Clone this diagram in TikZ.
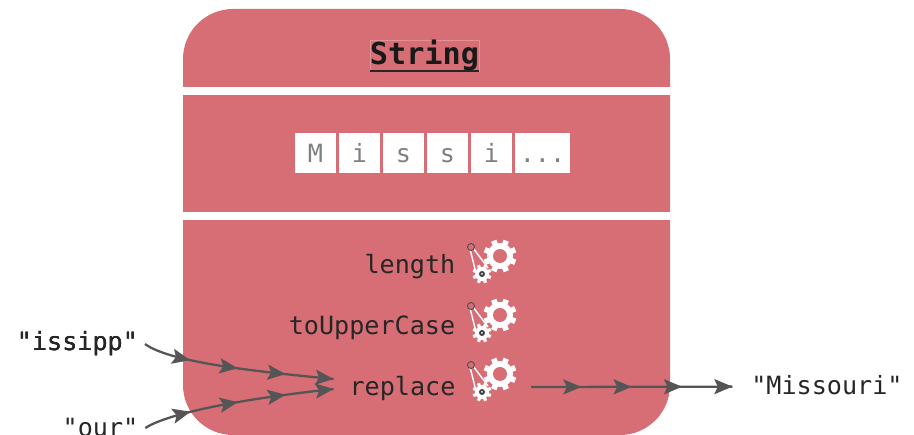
\documentclass[tikz,border=0pt]{standalone}
\usepackage{fontspec}
\setmonofont{DejaVu Sans Mono}
\usetikzlibrary{arrows.meta,decorations.markings}
\definecolor{objpink}{HTML}{D76E76}
\definecolor{flowgray}{HTML}{555555}
\newcommand{\gears}[2]{
\begin{scope}[shift={(#1,#2)}]
\foreach \a in {0,45,90,135}
\fill[white,rotate=\a+22.5] (-2.8,-16.5) rectangle (2.8,16.5);
\fill[white] (0,0) circle (13);
\fill[objpink] (0,0) circle (7);
\draw[white,line width=0.8pt] (-30,-7) -- (-24,17) (-27,-8) -- (-12,12);
\foreach \a in {0,45,90,135}
\fill[white,shift={(-18,18)},rotate=\a+22.5] (-1.6,-9.5) rectangle (1.6,9.5);
\fill[white] (-18,18) circle (7);
\fill[black!75] (-18,18) circle (3);
\fill[white] (-18,18) circle (1);
\draw[black!70,fill=objpink,line width=0.5pt] (-29,-9) circle (3.5);
\end{scope}}
\begin{document}
\begin{tikzpicture}[x=0.02cm,y=-0.02cm]
\tikzstyle{mono}=[font=\ttfamily\fontsize{14.3}{16}\selectfont,inner sep=0pt,text=black!85];
\tikzstyle{cell}=[mono,fill=white,minimum height=0.8cm,text height=0.4cm,text depth=0pt,text=black!50];
\tikzstyle{flow}=[flowgray,line width=1.3pt,postaction={decorate},decoration={markings,
mark=at position 0.25 with {\arrow{Stealth[length=0.36cm,width=0.3cm,inset=0.07cm]}},
mark=at position 0.5 with {\arrow{Stealth[length=0.36cm,width=0.3cm,inset=0.07cm]}},
mark=at position 0.75 with {\arrow{Stealth[length=0.36cm,width=0.3cm,inset=0.07cm]}},
mark=at position 1 with {\arrow{Stealth[length=0.36cm,width=0.3cm,inset=0.07cm]}}}];
\useasboundingbox (0,0) rectangle (914,435);
\fill[objpink,rounded corners=1cm] (183,9) rectangle (670,435);
\fill[white] (183,87) rectangle (670,95);
\fill[white] (183,212) rectangle (670,220);
\node[mono,font=\ttfamily\bfseries\fontsize{17.2}{20}\selectfont,text=black!90,draw=white!25!objpink,line width=0.3pt,minimum width=2.18cm,minimum height=0.58cm] (title) at (424.5,55.5) {String};
\draw[black!85,line width=0.8pt] (title.south west) -- (title.south east);
\foreach \x/\t/\n in {315.5/M/c1,359.5/i/c2,403.5/s/c3,447.5/s/c4,491.5/i/c5}
\node[cell,minimum width=0.82cm] (\n) at (\x,153) {\t};
\node[cell,minimum width=1.1cm] (c6) at (542.5,153) {...};
\node[mono,anchor=base] (length) at (410,274) {length};
\node[mono,anchor=base] (upper) at (372,335) {toUpperCase};
\node[mono,anchor=base,outer sep=0.32cm] (replace) at (402.5,396) {replace};
\foreach \y in {256,315,374}
\gears{500}{\y}
\node[mono,anchor=base,outer sep=0.14cm] (issipp) at (77.5,351) {"issipp"};
\node[mono,anchor=base,outer sep=0.14cm] (our) at (100.5,437) {"our"};
\node[mono,anchor=base,outer sep=0.38cm] (missouri) at (827,395) {"Missouri"};
\coordinate (gearout) at (531,387);
\draw[flow] (issipp.east) .. controls (170,362) and (250,371) .. ([yshift=0.2cm]replace.west);
\draw[flow] (our.east) .. controls (170,412) and (250,398) .. ([yshift=0cm]replace.west);
\draw[flow] (gearout) -- ([yshift=-0.02cm]missouri.west);
\end{tikzpicture}
\end{document}
